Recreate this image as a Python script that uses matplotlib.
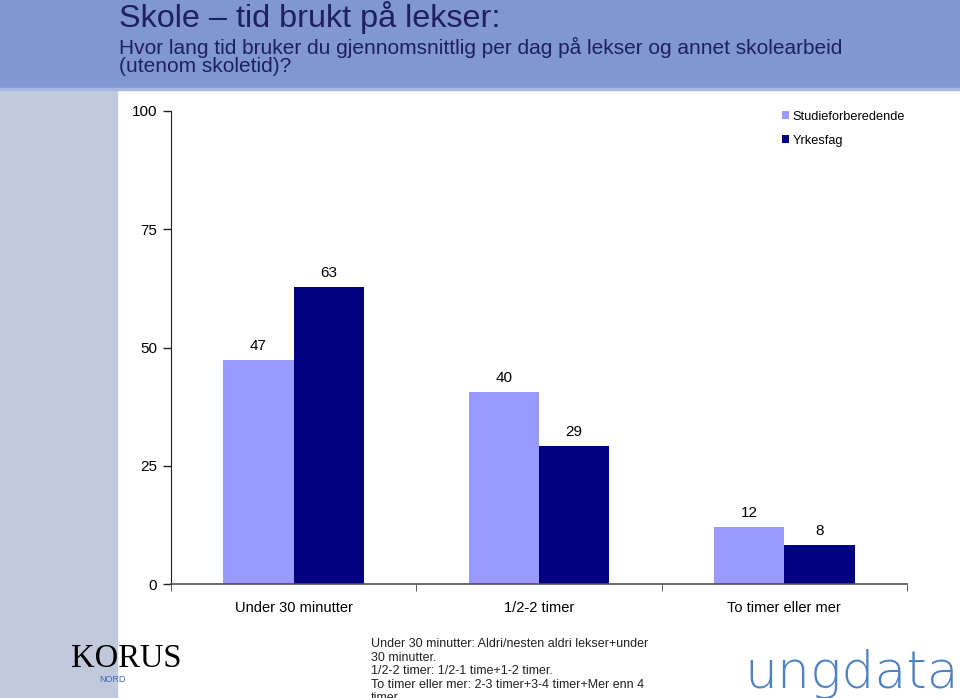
import matplotlib
matplotlib.use("Agg")
import matplotlib.pyplot as plt
import numpy as np

categories = ["Under 30 minutter", "1/2-2 timer", "To timer eller mer"]
series_names = ["Studieforberedende", "Yrkesfag"]
studie = [47.4, 40.5, 12.1]
yrkes = [62.8, 29.2, 8.3]
yticks = [0, 25, 50, 75, 100]

W, H = 960, 698
fig = plt.figure(figsize=(W / 100, H / 100), dpi=100)
fig.patch.set_facecolor("white")

# background decorations
fig.add_artist(plt.Rectangle((0, 0), 117 / W, 1 - 88 / H, transform=fig.transFigure,
                             color="#c1cadc", zorder=0))
fig.add_artist(plt.Rectangle((0, 1 - 88 / H), 1, 88 / H, transform=fig.transFigure,
                             color="#8097d1", zorder=0))
fig.add_artist(plt.Rectangle((0, 1 - 90 / H), 1, 2 / H, transform=fig.transFigure,
                             color="#a9b8e0", zorder=0))

hfam = "Liberation Sans"
fig.text(119 / W, 1 - 17 / H, "Skole – tid brukt på lekser:", fontsize=23.3,
         color="#1e2060", va="center", ha="left", family=hfam)
fig.text(119 / W, 1 - 47 / H, "Hvor lang tid bruker du gjennomsnittlig per dag på lekser og annet skolearbeid",
         fontsize=15, color="#1e2060", va="center", ha="left", family=hfam)
fig.text(119 / W, 1 - 67 / H, "(utenom skoletid)?",
         fontsize=15, color="#1e2060", va="center", ha="left", family=hfam)

# axes: x from 171 to 907, y from 111 (100) to 584 (0)
ax = fig.add_axes([171 / W, 1 - 584 / H, (907 - 171) / W, (584 - 111) / H])
ax.set_facecolor("none")
x = np.arange(len(categories))
bw = 0.287
c1, c2 = "#9999ff", "#000080"
b1 = ax.bar(x - bw / 2, studie, bw, color=c1, label=series_names[0], zorder=2)
b2 = ax.bar(x + bw / 2, yrkes, bw, color=c2, label=series_names[1], zorder=2)
for bars, vals in ((b1, studie), (b2, yrkes)):
    for r, v in zip(bars, vals):
        ax.annotate(f"{round(v)}", (r.get_x() + r.get_width() / 2, v), xytext=(0, 5),
                    textcoords="offset points", ha="center", va="bottom",
                    fontsize=11, family="Liberation Sans")

ax.set_xlim(-0.5, 2.5)
ax.set_ylim(0, 100)
ax.set_yticks(yticks)
ax.set_yticklabels([str(t) for t in yticks], family="Liberation Sans", fontsize=11)
ax.set_xticks(x)
ax.set_xticklabels(categories, family="Liberation Sans", fontsize=10.5)
ax.tick_params(axis="x", length=0, pad=12)
ax.set_xticks([-0.5, 0.5, 1.5, 2.5], minor=True)
ax.tick_params(axis="x", which="minor", length=5, color="#404040")
ax.tick_params(axis="y", length=6, width=1, color="#202020", pad=4)
for s in ("top", "right"):
    ax.spines[s].set_visible(False)
ax.spines["left"].set_color("#202020")
ax.spines["bottom"].set_color("#505050")
ax.spines["bottom"].set_linewidth(1.2)

leg = fig.legend(handles=[b1, b2], labels=series_names, loc="upper left",
                 bbox_to_anchor=(770 / W, 1 - 99 / H), frameon=False,
                 prop={"family": "Liberation Sans", "size": 9.2},
                 handlelength=0.6, handleheight=0.6, handletextpad=0.25,
                 labelspacing=0.95)

# footnote
foot = ("Under 30 minutter: Aldri/nesten aldri lekser+under\n30 minutter.\n"
        "1/2-2 timer: 1/2-1 time+1-2 timer.\n"
        "To timer eller mer: 2-3 timer+3-4 timer+Mer enn 4\ntimer.")
fig.text(371 / W, 1 - 638 / H, foot, fontsize=9, va="top", ha="left",
         family="Liberation Sans", color="#222222", linespacing=1.17)

# logos (text approximations)
fig.text(71 / W, 1 - 667 / H, "KORUS", fontsize=23.5, family="Liberation Serif",
         va="baseline", ha="left", color="black")
fig.text(99 / W, 1 - 680 / H, "NORD", fontsize=6.5, family="Liberation Sans",
         va="center", ha="left", color="#3a66b8")
fig.text(744 / W, 1 - 688 / H, "ungdata", fontsize=37.5, family="DejaVu Sans",
         fontweight="light", va="baseline", ha="left", color="#4f82c4")

fig.savefig("out.png", dpi=100)
